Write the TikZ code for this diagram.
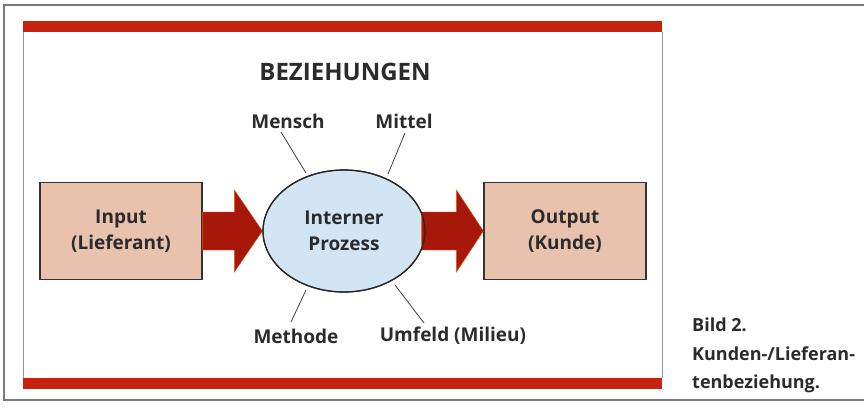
\documentclass[tikz,border=0pt]{standalone}
\usepackage{fontspec}
\setmainfont{Open Sans}
\usetikzlibrary{shapes.geometric,calc}
\definecolor{barred}{HTML}{C6230E}
\definecolor{arrred}{HTML}{A8180A}
\definecolor{tanfill}{HTML}{E8C2AC}
\definecolor{bluefill}{HTML}{D2E5F4}
\definecolor{txt}{HTML}{2B2B2B}
\definecolor{frame}{HTML}{7A7A7A}
\tikzset{
  lbl/.style={font=\fontsize{19}{22}\selectfont\bfseries, text=txt, inner sep=0pt},
  boxnode/.style={draw=black!80, line width=1.2pt, fill=tanfill, minimum width=162pt, minimum height=97pt, align=center, font=\fontsize{19}{26}\selectfont\bfseries, text=txt},
  bigarrow/.style={fill=arrred, draw=orange!70!arrred, line width=0.4pt},
  spoke/.style={draw=black!75, line width=0.8pt}
}
\begin{document}
\begin{tikzpicture}[x=1pt,y=-1pt]
\useasboundingbox (0,0) rectangle (864,407);
\fill[white] (0,0) rectangle (864,407);
% outer frame
\draw[frame, line width=1.5pt] (864,5) -- (4,5) -- (4,400) -- (864,400);
% inner panel
\draw[frame!80, line width=0.6pt] (23,32) -- (23,378) (662,32) -- (662,378);
\fill[barred] (23,21) rectangle (662,32);
\fill[barred] (23,378) rectangle (662,389);
% title
\node[lbl, font=\fontsize{24}{28}\selectfont\bfseries] (title) at (345,72) {BEZIEHUNGEN};
% boxes
\node[boxnode] (in) at (121,231) {Input\\(Lieferant)};
\node[boxnode] (out) at (565,231) {Output\\(Kunde)};
\node[ellipse, draw=black!85, line width=1.2pt, fill=bluefill, minimum width=162pt, minimum height=122pt, inner sep=0pt, align=center, font=\fontsize{19}{26}\selectfont\bfseries, text=txt] (proc) at (344,231) {Interner\\Prozess};
% arrows
\coordinate (a1s) at (in.east);
\coordinate (a1t) at (proc.west);
\path[bigarrow] ($(a1s)+(0,-19)$) -- ($(a1t)+(-28,-19)$) -- ($(a1t)+(-28,-41)$) -- (a1t) -- ($(a1t)+(-28,41)$) -- ($(a1t)+(-28,19)$) -- ($(a1s)+(0,19)$) -- cycle;
\coordinate (a2s) at ($(proc.east)+(-4,0)$);
\coordinate (a2t) at (out.west);
\path[bigarrow] ($(a2s)+(0,-19)$) -- ($(a2t)+(-27,-19)$) -- ($(a2t)+(-27,-41)$) -- (a2t) -- ($(a2t)+(-27,41)$) -- ($(a2t)+(-27,19)$) -- ($(a2s)+(0,19)$) -- cycle;
% redraw ellipse border over arrow
\draw[black!85, line width=1.2pt] (proc.center) ellipse [x radius=81pt, y radius=61pt];
% spokes and labels
\node[lbl] (mensch) at (288,121) {Mensch};
\node[lbl] (mittel) at (404,121) {Mittel};
\node[lbl] (methode) at (296,336) {Methode};
\node[lbl] (umfeld) at (453,336) {Umfeld (Milieu)};
\coordinate (m1) at (281,132); \coordinate (m1e) at (306,173);
\coordinate (m2) at (405,133); \coordinate (m2e) at (388,174);
\coordinate (m3) at (291,322); \coordinate (m3e) at (306,290);
\coordinate (m4) at (424,323); \coordinate (m4e) at (395,285);
\draw[spoke] (m1) -- (m1e);
\draw[spoke] (m2) -- (m2e);
\draw[spoke] (m3) -- (m3e);
\draw[spoke] (m4) -- (m4e);
% caption
\node[lbl, font=\fontsize{18}{28.5}\selectfont\bfseries, align=left, anchor=north west] (cap) at (692,318) {Bild 2.\\Kunden-/Lieferan-\\tenbeziehung.};
\end{tikzpicture}
\end{document}
